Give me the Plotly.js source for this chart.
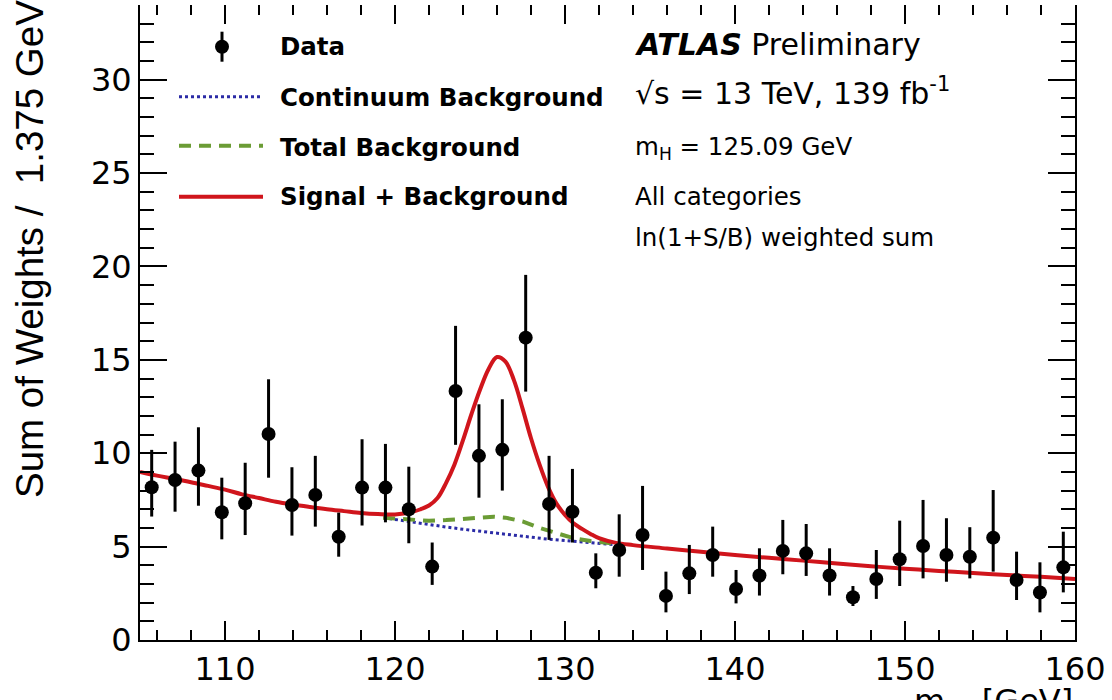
<!DOCTYPE html>
<html>
<head>
<meta charset="utf-8">
<script src="https://cdn.plot.ly/plotly-3.0.1.min.js"></script>
<style>html,body{margin:0;padding:0;background:#fff}#plot{width:1112px;height:700px}</style>
</head>
<body>
<div id="plot"></div>
<script>
// ---- data ----
const massBins = [105.6875,107.0625,108.4375,109.8125,111.1875,112.5625,113.9375,115.3125,116.6875,118.0625,
  119.4375,120.8125,122.1875,123.5625,124.9375,126.3125,127.6875,129.0625,130.4375,131.8125,
  133.1875,134.5625,135.9375,137.3125,138.6875,140.0625,141.4375,142.8125,144.1875,145.5625,
  146.9375,148.3125,149.6875,151.0625,152.4375,153.8125,155.1875,156.5625,157.9375,159.3125];
const dataWeights = [8.18,8.57,9.07,6.84,7.32,11.03,7.23,7.77,5.53,8.16,
  8.16,7.00,3.93,13.33,9.86,10.18,16.19,7.28,6.87,3.60,
  4.82,5.62,2.36,3.57,4.55,2.73,3.45,4.77,4.64,3.45,
  2.29,3.27,4.32,5.03,4.55,4.46,5.48,3.21,2.54,3.89];
const errUp = [2.00,2.05,2.32,1.85,2.17,2.93,2.02,2.09,1.29,2.59,
  2.34,2.28,1.29,3.49,2.76,2.71,3.36,2.58,2.29,1.04,
  1.91,2.63,1.30,1.52,1.52,1.02,1.46,1.66,1.57,1.46,
  0.60,1.55,2.07,2.47,1.97,1.58,2.55,1.52,1.62,1.91];
const errDown = [1.57,1.70,1.88,1.45,1.70,2.34,1.64,1.70,1.07,2.03,
  1.86,1.82,0.98,2.88,2.24,2.18,2.89,1.92,1.65,0.83,
  1.43,1.87,0.88,1.11,1.16,0.77,1.07,1.25,1.21,1.07,
  0.47,1.07,1.43,1.73,1.43,1.16,1.82,1.07,1.06,1.34];

const sbMass = [105,106,107,108,109,110,111,112,113,114,115,116,117,118,119,120,121,121.5,122,122.5,
  123,123.5,124,124.5,125,125.5,126,126.5,127,127.5,128,128.5,129,129.5,130,130.5,131,131.5,132,133,
  134,136,138,140,142,144,146,148,150,152,154,156,158,160];
const sbValue = [9.00,8.80,8.63,8.45,8.25,8.05,7.80,7.60,7.40,7.25,7.12,7.00,6.90,6.80,6.74,6.72,6.85,7.00,7.20,7.60,
  8.40,9.40,10.70,12.10,13.40,14.50,15.15,14.90,13.90,12.40,10.80,9.40,8.20,7.30,6.70,6.25,5.95,5.68,5.45,5.20,
  5.08,4.90,4.72,4.55,4.40,4.25,4.10,3.95,3.82,3.70,3.59,3.48,3.38,3.27];

const totBkgMass = [119.3,120,121,122,123,124,125,125.8,126.5,127.5,128.5,129.5,130.5,131.5,132.5,133];
const totBkgValue = [6.55,6.50,6.42,6.38,6.42,6.50,6.58,6.60,6.55,6.35,6.00,5.70,5.45,5.30,5.20,5.15];

const contBkgMass = [119.3,120,121,122,123,124,125,126,127,128,129,130,131,132,133];
const contBkgValue = [6.55,6.45,6.30,6.18,6.05,5.93,5.82,5.72,5.60,5.50,5.40,5.32,5.24,5.17,5.10];

const xRange = [105, 160];
const yRange = [0, 34];
const legendLabels = ['Data', 'Continuum Background', 'Total Background', 'Signal + Background'];
const infoLines = ['<b><i>ATLAS</i></b> Preliminary', '\u221As = 13 TeV, 139 fb<sup>-1</sup>',
  'm<sub>H</sub> = 125.09 GeV', 'All categories', 'ln(1+S/B) weighted sum'];
const xTitle = 'm<sub>\u03b3\u03b3</sub> [GeV]';
const yTitle = 'Sum of Weights /  1.375 GeV';

// ---- styles ----
const W = 1112, H = 700, ML = 140, MR = 37, MT = 5, MB = 60;
const PW = W - ML - MR, PH = H - MT - MB;
const px = v => (v - ML) / PW;
const py = v => 1 - (v - MT) / PH;
const RED = '#d0151c', GREEN = '#6b9c35', BLUE = '#2b2ba6';
const SANS = 'DejaVu Sans';

const traces = [
  {x: contBkgMass, y: contBkgValue, type: 'scatter', mode: 'lines',
   line: {color: BLUE, width: 3, dash: 'dot'}, hoverinfo: 'skip'},
  {x: totBkgMass, y: totBkgValue, type: 'scatter', mode: 'lines',
   line: {color: GREEN, width: 4, dash: '12px,8px'}, hoverinfo: 'skip'},
  {x: sbMass, y: sbValue, type: 'scatter', mode: 'lines', line: {color: RED, width: 4, shape: 'spline'}},
  {x: massBins, y: dataWeights, type: 'scatter', mode: 'markers',
   marker: {color: 'black', size: 14},
   error_y: {type: 'data', symmetric: false, array: errUp, arrayminus: errDown,
             color: 'black', thickness: 3, width: 0}},
  {x: [null], y: [null], xaxis: 'x2', yaxis: 'y2', hoverinfo: 'skip', mode: 'markers'}
];

const axBase = {showgrid: false, zeroline: false, ticks: 'inside', tickcolor: 'black', tickwidth: 2,
  linecolor: 'black', linewidth: 2};
const annotations = [];
const shapes = [];
// legend
const legY = [46.5, 98, 147.5, 196.5];
const symY = [46.7, 96.7, 145.7, 196.7];
legendLabels.forEach((t, i) => annotations.push({xref: 'paper', yref: 'paper', x: px(278), y: py(legY[i]),
  xanchor: 'left', yanchor: 'middle', showarrow: false, text: '<b>' + t + '</b>',
  font: {family: SANS, size: 24.5, color: 'black'}}));
shapes.push({type: 'line', xref: 'paper', yref: 'paper', x0: px(222), x1: px(222), y0: py(31.7), y1: py(61.7),
  line: {color: 'black', width: 3}});
shapes.push({type: 'circle', xref: 'paper', yref: 'paper', xsizemode: 'pixel', ysizemode: 'pixel',
  xanchor: px(222), yanchor: py(symY[0]), x0: -7, x1: 7, y0: -7, y1: 7,
  fillcolor: 'black', line: {color: 'black', width: 0}});
[[BLUE, 3, 'dot'], [GREEN, 4, '12px,8px'], [RED, 4, 'solid']].forEach((s, i) => shapes.push({
  type: 'line', xref: 'paper', yref: 'paper', x0: px(179), x1: px(263), y0: py(symY[i + 1]), y1: py(symY[i + 1]),
  line: {color: s[0], width: s[1], dash: s[2]}}));
// info text
const infoY = [44.6, 91.5, 148.5, 196.5, 237.5];
const infoSize = [30, 30, 24.5, 24.5, 24.5];
infoLines.forEach((t, i) => annotations.push({xref: 'paper', yref: 'paper', x: px(633), y: py(infoY[i]),
  xanchor: 'left', yanchor: 'middle', showarrow: false, text: t,
  font: {family: SANS, size: infoSize[i], color: 'black'}}));
// axis titles
annotations.push({xref: 'paper', yref: 'paper', x: 1, y: py(703), xanchor: 'right', yanchor: 'middle',
  showarrow: false, text: xTitle, font: {family: SANS, size: 32, color: 'black'}});
annotations.push({xref: 'paper', yref: 'paper', x: px(30), y: py(500), xanchor: 'center', yanchor: 'bottom',
  textangle: -90, showarrow: false, text: yTitle, font: {family: 'Liberation Sans', size: 38.5, color: 'black'}});

const layout = {
  width: W, height: H, margin: {l: ML, r: MR, t: MT, b: MB},
  paper_bgcolor: 'white', plot_bgcolor: 'white', showlegend: false,
  font: {family: SANS, size: 32, color: 'black'},
  xaxis: Object.assign({}, axBase, {range: xRange, dtick: 10, tick0: 0, ticklen: 19, showline: true,
    tickfont: {family: SANS, size: 32}, automargin: false,
    minor: {dtick: 2, tick0: 0, ticks: 'inside', ticklen: 10, tickwidth: 2, tickcolor: 'black', showgrid: false}}),
  yaxis: Object.assign({}, axBase, {range: yRange, dtick: 5, tick0: 0, ticklen: 27, showline: true,
    tickfont: {family: SANS, size: 32}, automargin: false,
    minor: {dtick: 1, tick0: 0, ticks: 'inside', ticklen: 14, tickwidth: 2, tickcolor: 'black', showgrid: false}}),
  xaxis2: Object.assign({}, axBase, {range: xRange, overlaying: 'x', side: 'top', anchor: 'y', dtick: 10, tick0: 0,
    ticklen: 19, showline: false, showticklabels: false,
    minor: {dtick: 2, tick0: 0, ticks: 'inside', ticklen: 10, tickwidth: 2, tickcolor: 'black', showgrid: false}}),
  yaxis2: Object.assign({}, axBase, {range: yRange, overlaying: 'y', side: 'right', anchor: 'x', dtick: 5, tick0: 0,
    ticklen: 27, showline: true, showticklabels: false,
    minor: {dtick: 1, tick0: 0, ticks: 'inside', ticklen: 14, tickwidth: 2, tickcolor: 'black', showgrid: false}}),
  annotations: annotations, shapes: shapes
};
Plotly.newPlot('plot', traces, layout, {staticPlot: true, displayModeBar: false});
</script>
</body>
</html>
